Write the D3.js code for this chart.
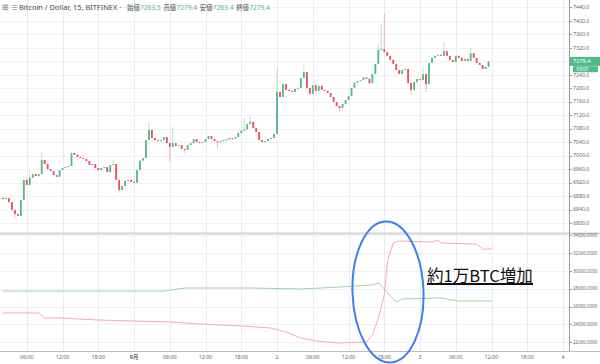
<!DOCTYPE html>
<html>
<head>
<meta charset="utf-8">
<script src="https://cdn.jsdelivr.net/npm/d3@7"></script>
<style>
  body { margin: 0; background: #fff; }
  svg { display: block; font-family: "Noto Sans", "Noto Sans CJK JP", sans-serif; }
</style>
</head>
<body>
<div id="chart"></div>
<script>
// 30 minute closes, BTC/USD, from 8/31 02:00
const closes = [
  6871, 6874, 6862, 6839, 6827, 6821, 6868, 6928, 6913, 6934,
  6945, 6939, 6945, 6987, 6975, 6960, 6954, 6942, 6937, 6957,
  6963, 6966, 6969, 7008, 7002, 6996, 6993, 6990, 6984, 6972,
  6975, 6963, 6957, 6963, 6966, 6951, 6972, 6975, 6928, 6898,
  6910, 6925, 6928, 6922, 6919, 6957, 6985, 6993, 7046, 7076,
  7052, 7046, 7043, 7046, 7055, 7037, 7026, 7037, 7029, 7031,
  7020, 7017, 7031, 7037, 7049, 7040, 7037, 7040, 7049, 7058,
  7049, 7043, 7040, 7043, 7046, 7048, 7052, 7050, 7055, 7067,
  7074, 7078, 7094, 7100, 7082, 7070, 7046, 7040, 7043, 7049,
  7052, 7064, 7189, 7174, 7212, 7195, 7192, 7189, 7198, 7201,
  7230, 7248, 7201, 7183, 7209, 7192, 7207, 7195, 7192, 7186,
  7174, 7159, 7147, 7141, 7153, 7165, 7177, 7201, 7216, 7221,
  7224, 7232, 7228, 7215, 7242, 7272, 7313, 7316, 7307, 7296,
  7284, 7272, 7254, 7242, 7254, 7257, 7215, 7195, 7218, 7227,
  7224, 7242, 7212, 7275, 7290, 7296, 7299, 7296, 7310, 7296,
  7284, 7278, 7296, 7290, 7281, 7287, 7281, 7304, 7290, 7275,
  7269, 7257, 7263.5, 7279.4
];
const firstOpen = 6875;
// [candle index, price] for the wicks that stick out
const upperWicks = [[9, 6957], [13, 7010], [37, 6987], [49, 7100], [57, 7085], [81, 7111],
  [83, 7115], [92, 7260], [101, 7269], [126, 7330], [127, 7390], [128, 7420],
  [141, 7262], [148, 7337], [157, 7319]];
const lowerWicks = [[4, 6815], [39, 6890], [56, 6981], [61, 7008], [72, 7022],
  [113, 7129], [137, 7180], [142, 7189]];

// lower pane, hours from 9/1 00:00
const pinkHours = [-22, -16, -15, -12.5, -6, 0, 6, 11, 18, 23, 25.5, 28, 30.5, 34.5,
  39, 40, 41, 42, 42.5, 43.5, 44.5, 50, 51, 51.5, 57.5, 58.5, 60];
const pinkVals = [25290, 25290, 24725, 24725, 24500, 24390, 24280, 24050, 23830, 23600,
  23150, 22480, 22150, 21920, 22030, 22820, 24725, 27300, 31000, 33140, 33360, 33250,
  33470, 33140, 33020, 32460, 32460];
const greenHours = [-22, -6, 5, 8.5, 19.5, 28, 34.5, 40, 41, 42, 43, 44, 45, 51.5, 54.5, 60];
const greenVals = [27750, 27750, 27750, 28090, 28090, 27980, 28200, 28430, 28650, 27980,
  27200, 26520, 26860, 26970, 26630, 26630];

const priceTicks = d3.range(6800, 7441, 40);
const volTicks = d3.range(22000, 34001, 2000);
const hdrLabels = ["始値", "高値", "安値", "終値"];
const hdrValues = ["7263.5", "7279.4", "7263.4", "7279.4"];

const width = 600, height = 364;
const axisX = 569, paneSplit = 233.5, bottomY = 351;
const up = "#53b987", down = "#eb4d5c";
const hour = 3600e3;
const t0 = new Date(2018, 8, 1, 0, 0);
const at = h => new Date(+t0 + h * hour);

const svg = d3.select("#chart").append("svg")
  .attr("width", width)
  .attr("height", height);

const x = d3.scaleTime().domain([at(-22.5), at(73)]).range([0, axisX]);
const yP = d3.scaleLinear().domain([6800, 7440]).range([223, 7.3]);
const yV = d3.scaleLinear().domain([22000, 34000]).range([342.3, 235.3]);

// grid
const timeTicks = x.ticks(d3.timeHour.every(6));
svg.append("g").selectAll("line").data(timeTicks).enter().append("line")
  .attr("x1", d => Math.round(x(d)) + 0.5).attr("x2", d => Math.round(x(d)) + 0.5)
  .attr("y1", 0).attr("y2", bottomY)
  .attr("stroke", "#e7edf4");
svg.append("g").selectAll("line").data(priceTicks).enter().append("line")
  .attr("x1", 0).attr("x2", axisX)
  .attr("y1", d => Math.round(yP(d)) + 0.5).attr("y2", d => Math.round(yP(d)) + 0.5)
  .attr("stroke", "#eef2f7");
svg.append("g").selectAll("line").data(volTicks).enter().append("line")
  .attr("x1", 0).attr("x2", axisX)
  .attr("y1", d => Math.round(yV(d)) + 0.5).attr("y2", d => Math.round(yV(d)) + 0.5)
  .attr("stroke", "#eef2f7");

// candles
const candles = closes.map((c, i) => {
  const o = i ? closes[i - 1] : firstOpen;
  return { t: at(-22 + i * 0.5), o: o, c: c, h: Math.max(o, c), l: Math.min(o, c) };
});
upperWicks.forEach(([i, v]) => { candles[i].h = v; });
lowerWicks.forEach(([i, v]) => { candles[i].l = v; });

const cg = svg.append("g");
cg.selectAll("line").data(candles).enter().append("line")
  .attr("x1", d => x(d.t)).attr("x2", d => x(d.t))
  .attr("y1", d => yP(d.h)).attr("y2", d => yP(d.l))
  .attr("stroke", d => d.c >= d.o ? up : down)
  .attr("stroke-opacity", 0.4)
  .attr("stroke-width", 1);
cg.selectAll("rect").data(candles).enter().append("rect")
  .attr("x", d => x(d.t) - 0.9)
  .attr("width", 1.8)
  .attr("y", d => yP(Math.max(d.o, d.c)))
  .attr("height", d => Math.max(1, Math.abs(yP(d.o) - yP(d.c))))
  .attr("fill", d => d.c >= d.o ? up : down);

// lower pane lines
const line = d3.line().x(d => x(at(d[0]))).y(d => yV(d[1]));
svg.append("path")
  .datum(greenHours.map((h, i) => [h, greenVals[i]]))
  .attr("d", line).attr("fill", "none")
  .attr("stroke", "#9fd39f").attr("stroke-width", 1);
svg.append("path")
  .datum(pinkHours.map((h, i) => [h, pinkVals[i]]))
  .attr("d", line).attr("fill", "none")
  .attr("stroke", "#f7a9b2").attr("stroke-width", 1);

// pane separator and axis lines
svg.append("rect").attr("x", 0).attr("y", paneSplit - 1).attr("width", width).attr("height", 2)
  .attr("fill", "#d3d3d3");
svg.append("line").attr("x1", axisX + 0.5).attr("x2", axisX + 0.5).attr("y1", 0).attr("y2", bottomY)
  .attr("stroke", "#9a9a9a");
svg.append("line").attr("x1", 0).attr("x2", width).attr("y1", bottomY + 0.5).attr("y2", bottomY + 0.5)
  .attr("stroke", "#bdbdbd");

// last price tags cover the labels behind them
const last = closes[closes.length - 1];
const ly = yP(last);
const hidden = p => Math.abs(yP(p) - ly) < 6;

// right axes
const axisText = (g, data, y, fmt, size) => {
  g.selectAll("line").data(data).enter().append("line")
    .attr("x1", axisX).attr("x2", axisX + 3)
    .attr("y1", d => Math.round(y(d)) + 0.5).attr("y2", d => Math.round(y(d)) + 0.5)
    .attr("stroke", "#9a9a9a");
  g.selectAll("text").data(data).enter().append("text")
    .attr("x", axisX + 4).attr("y", d => y(d))
    .attr("dy", "0.35em")
    .attr("font-size", size).attr("fill", "#666")
    .text(fmt);
};
axisText(svg.append("g"), priceTicks.filter(p => !hidden(p)), yP, d3.format(".1f"), 5.2);
axisText(svg.append("g"), volTicks, yV, d3.format(".4f"), 4.5);

// time axis
svg.append("g").selectAll("text").data(timeTicks).enter().append("text")
  .attr("x", d => x(d)).attr("y", 357)
  .attr("dy", "0.35em")
  .attr("text-anchor", "middle")
  .attr("font-size", 5.4)
  .attr("fill", "#666")
  .attr("font-weight", d => d.getHours() === 0 && d.getDate() === 1 ? "bold" : "normal")
  .text(d => d.getHours() === 0 ? (d.getDate() === 1 ? "9月" : String(d.getDate())) : d3.timeFormat("%H:%M")(d));

svg.append("rect").attr("x", axisX + 1).attr("y", ly - 4.5).attr("width", 30).attr("height", 9)
  .attr("fill", up);
svg.append("text").attr("x", axisX + 4).attr("y", ly).attr("dy", "0.35em")
  .attr("font-size", 5.6).attr("fill", "#fff").text(last.toFixed(1));
svg.append("rect").attr("x", axisX + 4).attr("y", ly + 4.8).attr("width", 25).attr("height", 6)
  .attr("fill", up);
svg.append("text").attr("x", axisX + 7.5).attr("y", ly + 7.8).attr("dy", "0.35em")
  .attr("font-size", 4.6).attr("fill", "#fff").text("03:03");

// header
const hdr = svg.append("g").attr("font-size", 7.4).attr("fill", "#4a4a4a");
hdr.append("text").attr("x", 2).attr("y", 10.3).attr("font-size", 8).attr("fill", "#777").text("⊞");
hdr.append("text").attr("x", 11).attr("y", 10).attr("font-size", 7).attr("fill", "#777").text("≡");
hdr.append("text").attr("x", 19).attr("y", 10).text("Bitcoin / Dollar, 15, BITFINEX ·");
hdrLabels.forEach((lab, i) => {
  const x0 = 127 + i * 36.4;
  hdr.append("text").attr("x", x0).attr("y", 10)
    .attr("font-family", "'Noto Sans CJK JP'").attr("font-size", 6.4).text(lab);
  hdr.append("text").attr("x", x0 + 13).attr("y", 10).attr("font-size", 6.6)
    .attr("fill", up).text(hdrValues[i]);
});

// annotation
svg.append("ellipse")
  .attr("cx", 388).attr("cy", 292).attr("rx", 35.5).attr("ry", 70.5)
  .attr("transform", "rotate(-2 388 292)")
  .attr("fill", "none").attr("stroke", "#3b7ff0").attr("stroke-width", 2);
const note = svg.append("text")
  .attr("x", 427).attr("y", 281.5)
  .attr("font-family", "'Noto Sans CJK JP'")
  .attr("font-size", 18)
  .attr("fill", "#111")
  .text("約1万BTC増加");
const nw = note.node().getComputedTextLength();
note.attr("font-size", 18 * 106 / nw);
svg.append("rect").attr("x", 427).attr("y", 283).attr("width", 106).attr("height", 2)
  .attr("fill", "#111");
</script>
</body>
</html>
